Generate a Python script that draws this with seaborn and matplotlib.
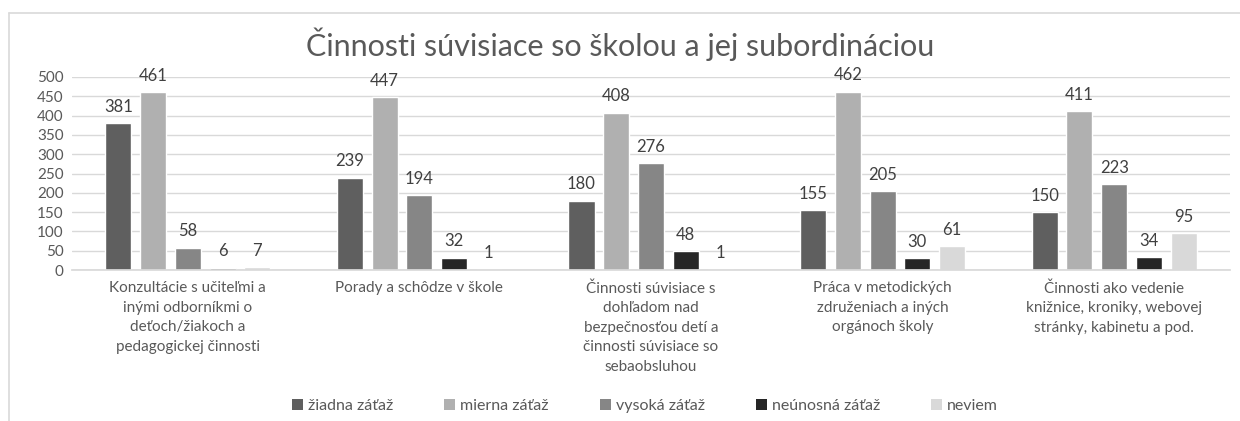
import numpy as np
import pandas as pd
import matplotlib
matplotlib.use("Agg")
import matplotlib.pyplot as plt
import seaborn as sns
from matplotlib.lines import Line2D
from matplotlib.patches import Patch

categories = [
    "Konzultácie s učiteľmi a\ninými odborníkmi o\ndeťoch/žiakoch a\npedagogickej činnosti",
    "Porady a schôdze v škole",
    "Činnosti súvisiace s\ndohľadom nad\nbezpečnosťou detí a\nčinnosti súvisiace so\nsebaobsluhou",
    "Práca v metodických\nzdruženiach a iných\norgánoch školy",
    "Činnosti ako vedenie\nknižnice, kroniky, webovej\nstránky, kabinetu a pod.",
]
series = ["žiadna záťaž", "mierna záťaž", "vysoká záťaž", "neúnosná záťaž", "neviem"]
ziadna = [381, 239, 180, 155, 150]
mierna = [461, 447, 408, 462, 411]
vysoka = [58, 194, 276, 205, 223]
neunosna = [6, 32, 48, 30, 34]
neviem = [7, 1, 1, 61, 95]
colors = ["#5f5f5f", "#b0b0b0", "#868686", "#262626", "#d9d9d9"]

sns.set_theme(style="white")
plt.rcParams["font.family"] = ["Lato", "DejaVu Sans"]

values = [ziadna, mierna, vysoka, neunosna, neviem]
rows = []
for s, vals in zip(series, values):
    for c, v in zip(categories, vals):
        rows.append({"kategoria": c, "zataz": s, "pocet": v})
df = pd.DataFrame(rows)

fig = plt.figure(figsize=(12.4, 4.21), dpi=100)
ax = fig.add_axes([72 / 1240, 1 - 270 / 421, (1230 - 72) / 1240, (270 - 77) / 421])

sns.barplot(data=df, x="kategoria", y="pocet", hue="zataz", palette=colors,
            width=0.75, gap=0.25, ax=ax, legend=False, saturation=1)

for cont in ax.containers:
    ax.bar_label(cont, padding=6, fontsize=12, color="#404040")

ax.set_ylim(0, 500)
ax.set_yticks(np.arange(0, 501, 50))
ax.yaxis.grid(True, color="#d9d9d9", linewidth=1)
ax.set_axisbelow(True)
for sp in ["top", "right", "left"]:
    ax.spines[sp].set_visible(False)
ax.spines["bottom"].set_color("#d9d9d9")
ax.tick_params(axis="both", length=0, labelsize=11, colors="#595959", pad=6)
ax.tick_params(axis="x", pad=8)
for lbl in ax.get_xticklabels():
    lbl.set_linespacing(1.5)
    lbl.set_verticalalignment("top")
ax.set_xlabel("")
ax.set_ylabel("")
ax.set_xlim(-0.5, 4.5)

fig.text(0.5, 1 - 44 / 421, "Činnosti súvisiace so školou a jej subordináciou",
         ha="center", va="center", fontsize=22, color="#595959")

handles = [Patch(facecolor=c, edgecolor="none") for c in colors]
fig.legend(handles, series, loc="center", bbox_to_anchor=(645 / 1240, 1 - 406 / 421),
           ncol=5, frameon=False, fontsize=11.5, handlelength=0.7, handleheight=0.7,
           handletextpad=0.3, columnspacing=3.2, labelcolor="#595959")

# chart area border
fig.add_artist(Line2D([9 / 1240, 1], [1 - 12.5 / 421] * 2, color="#d9d9d9", lw=1.2,
                      transform=fig.transFigure))
fig.add_artist(Line2D([9 / 1240] * 2, [0, 1 - 12.5 / 421], color="#d9d9d9", lw=1.2,
                      transform=fig.transFigure))

fig.savefig("out.png", dpi=100)
